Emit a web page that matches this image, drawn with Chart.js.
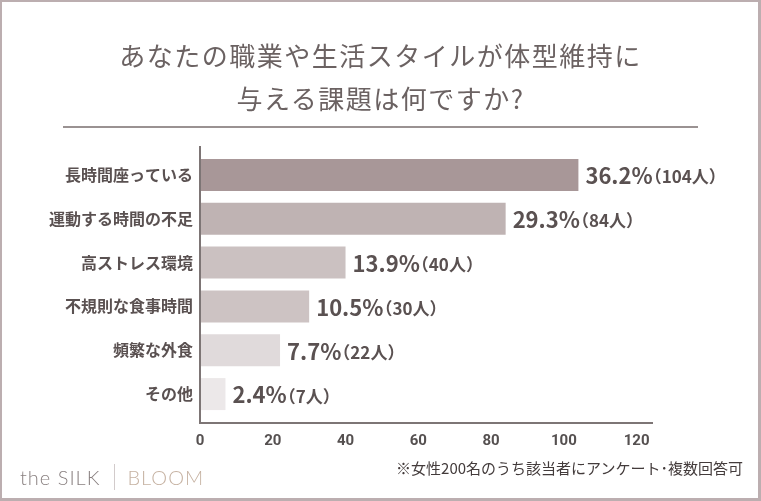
<!DOCTYPE html>
<html lang="ja">
<head>
<meta charset="utf-8">
<script src="https://cdn.jsdelivr.net/npm/chart.js@4.4.1/dist/chart.umd.min.js"></script>
<style>
  html, body { margin: 0; padding: 0; background: #fff; }
  #frame { position: relative; width: 761px; height: 501px; overflow: hidden; font-family: "Noto Sans CJK JP", sans-serif; }
  #chartBox { position: absolute; left: 0; top: 0; width: 761px; height: 501px; }
  #border { position: absolute; left: 0; top: 0; right: 0; bottom: 0; border: 2px solid #bcaeb0; border-right-width: 3px; border-bottom-width: 3px; pointer-events: none; }
  #title { position: absolute; left: 0; right: 0; top: 33px; text-align: center; font-size: 26px; line-height: 43px; letter-spacing: 1.5px; color: #6b6262; }
  #rule { position: absolute; left: 63px; width: 635px; top: 126px; height: 2px; background: #9a9292; }
  #logo { position: absolute; left: 20px; top: 464px; font-family: Lato, sans-serif; font-weight: 300; font-size: 20px; line-height: 26px; color: #8a8181; letter-spacing: 1px; }
  #logo .sep { display: inline-block; width: 1px; height: 26px; background: #d2cbcb; vertical-align: top; margin: 0 12px 0 14px; }
  #logo .bloom { color: #c6b2a2; }
  #note { position: absolute; right: 18px; top: 457px; font-size: 15px; line-height: 21px; color: #433b3b; }
</style>
</head>
<body>
<div id="frame">
  <div id="chartBox"><canvas id="myChart" width="761" height="501"></canvas></div>
  <div id="title">あなたの職業や生活スタイルが体型維持に<br>与える課題は何ですか?</div>
  <div id="rule"></div>
  <div id="logo">the SILK<span class="sep"></span><span class="bloom">BLOOM</span></div>
  <div id="note">※女性200名のうち該当者にアンケート･複数回答可</div>
  <div id="border"></div>
</div>
<script>
"use strict";

// chart data
const categories = ["長時間座っている", "運動する時間の不足", "高ストレス環境", "不規則な食事時間", "頻繁な外食", "その他"];
const respondentCounts = [104, 84, 40, 30, 22, 7];
const percentages = [36.2, 29.3, 13.9, 10.5, 7.7, 2.4];
const xTickValues = [0, 20, 40, 60, 80, 100, 120];
const barColors = ["#a89798", "#bfb3b3", "#cbc1c1", "#cdc3c3", "#e0dadb", "#ece8e9"];

const textColor = "#5a5151";
const axisColor = "#7d7575";

// axis lines run a little past the plot area, like the original
const axisLinesPlugin = {
  id: "axisLines",
  afterDatasetsDraw(chart) {
    const { ctx, chartArea } = chart;
    ctx.save();
    ctx.strokeStyle = axisColor;
    ctx.lineWidth = 2;
    ctx.beginPath();
    ctx.moveTo(chartArea.left, chartArea.top - 7);
    ctx.lineTo(chartArea.left, chartArea.bottom + 7);
    ctx.lineTo(chartArea.right, chartArea.bottom + 7);
    ctx.stroke();
    ctx.restore();
  },
};

// "36.2%（104人）" next to each bar
const valueLabelsPlugin = {
  id: "valueLabels",
  afterDatasetsDraw(chart) {
    const { ctx } = chart;
    const meta = chart.getDatasetMeta(0);
    ctx.save();
    ctx.fillStyle = textColor;
    ctx.textBaseline = "middle";
    meta.data.forEach((bar, i) => {
      const pct = percentages[i].toFixed(1) + "%";
      const cnt = "（" + respondentCounts[i] + "人）";
      const x = bar.x + 7;
      ctx.font = "bold 22px 'Noto Sans CJK JP', sans-serif";
      ctx.fillText(pct, x, bar.y + 1);
      const w = ctx.measureText(pct).width;
      ctx.font = "bold 17px 'Noto Sans CJK JP', sans-serif";
      ctx.fillText(cnt, x + w - 8, bar.y + 2);
    });
    ctx.restore();
  },
};

const ctx = document.getElementById("myChart").getContext("2d");
new Chart(ctx, {
  type: "bar",
  data: {
    labels: categories,
    datasets: [
      {
        data: respondentCounts,
        backgroundColor: barColors,
        borderWidth: 0,
        barPercentage: 0.73,
        categoryPercentage: 1,
      },
    ],
  },
  options: {
    indexAxis: "y",
    responsive: false,
    animation: false,
    layout: { padding: { top: 153, right: 108, left: 0, bottom: 0 } },
    plugins: {
      legend: { display: false },
      tooltip: { enabled: false },
    },
    scales: {
      x: {
        min: 0,
        max: 124.5,
        afterBuildTicks: (scale) => {
          scale.ticks = xTickValues.map((v) => ({ value: v }));
        },
        afterFit: (scale) => {
          scale.height = 85;
        },
        grid: { display: false, drawTicks: false },
        border: { display: false },
        ticks: {
          padding: 16,
          color: "#555050",
          font: { family: "Roboto, sans-serif", size: 15, weight: "bold" },
        },
      },
      y: {
        afterFit: (scale) => {
          scale.width = 200;
        },
        grid: { display: false, drawTicks: false },
        border: { display: false },
        ticks: {
          padding: 7,
          color: textColor,
          font: { family: "'Noto Sans CJK JP', sans-serif", size: 16, weight: "bold" },
        },
      },
    },
  },
  plugins: [axisLinesPlugin, valueLabelsPlugin],
});
</script>
</body>
</html>
